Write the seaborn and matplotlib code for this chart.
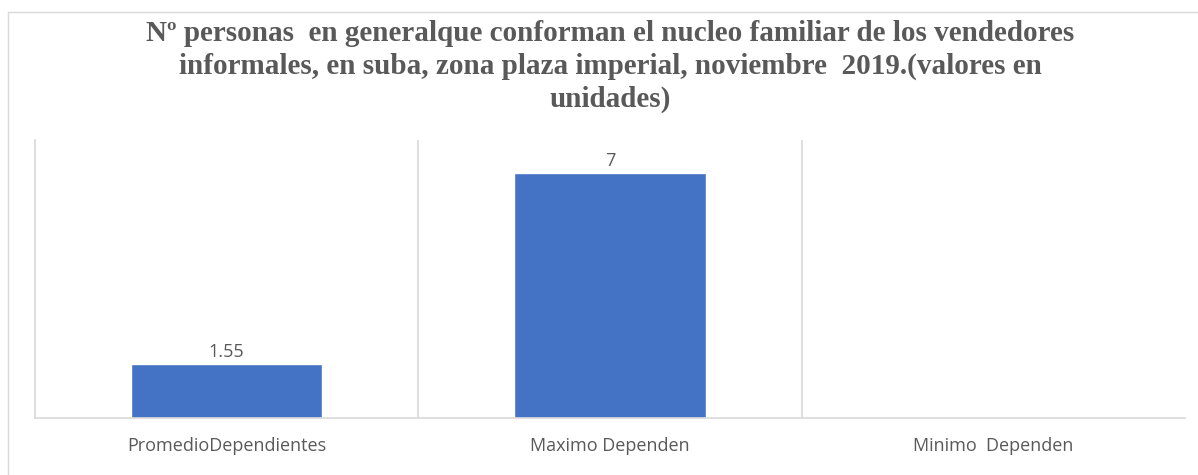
import matplotlib.pyplot as plt
import pandas as pd
import seaborn as sns
from matplotlib.lines import Line2D

CATEGORIES: list[str] = ["PromedioDependientes", "Maximo Dependen", "Minimo  Dependen"]
VALUES: list[float] = [1.55, 7, 0]
VALUE_LABELS: list[str] = ["1.55", "7", ""]
TITLE = (
    "Nº personas  en generalque conforman el nucleo familiar de los vendedores\n"
    "informales, en suba, zona plaza imperial, noviembre  2019.(valores en\n"
    "unidades)"
)

BAR_COLOR = "#4472C4"
TEXT_COLOR = "#595959"
GRID_COLOR = "#D9D9D9"


def main() -> None:
    sns.set_style("white")
    plt.rcParams["font.family"] = ["Open Sans", "DejaVu Sans"]

    plot_df = pd.DataFrame({"Categoria": CATEGORIES, "Valor": VALUES})

    fig = plt.figure(figsize=(11.98, 4.75), dpi=100)
    ax = fig.add_axes([0.0292, 0.12, 0.9599, 0.5853])
    sns.barplot(data=plot_df, x="Categoria", y="Valor", color=BAR_COLOR, width=0.5, saturation=1, ax=ax)

    for patch, label in zip(ax.patches, VALUE_LABELS):
        if label:
            ax.annotate(
                label,
                (patch.get_x() + patch.get_width() / 2, patch.get_height()),
                xytext=(0, 2),
                textcoords="offset points",
                ha="center",
                va="bottom",
                fontsize=13,
                color=TEXT_COLOR,
            )

    ax.set_xlim(-0.5, 2.5)
    ax.set_ylim(0, 7.95)
    ax.set_yticks([])
    ax.set_xticks(range(len(CATEGORIES)))
    ax.set_xticklabels(CATEGORIES, fontsize=13, color=TEXT_COLOR)
    ax.set_xticks([0.5, 1.5], minor=True)
    ax.tick_params(axis="x", which="both", length=0, pad=14)
    ax.grid(axis="x", which="minor", color=GRID_COLOR, linewidth=1.2)
    ax.set_xlabel("")
    ax.set_ylabel("")

    for side in ["top", "right"]:
        ax.spines[side].set_visible(False)
    for side in ["left", "bottom"]:
        ax.spines[side].set_color(GRID_COLOR)
        ax.spines[side].set_linewidth(1.2)

    ax.set_title(
        TITLE,
        family=["Liberation Serif", "DejaVu Serif"],
        fontweight="bold",
        fontsize=21,
        color=TEXT_COLOR,
        pad=24,
        linespacing=1.26,
    )

    # outer chart frame, partly visible at the top and left edge
    fig.add_artist(Line2D([0.0067, 0.0067], [0.0, 0.975], transform=fig.transFigure, color=GRID_COLOR, linewidth=1))
    fig.add_artist(Line2D([0.0067, 1.0], [0.975, 0.975], transform=fig.transFigure, color=GRID_COLOR, linewidth=1))

    fig.savefig("out.png", dpi=100)


if __name__ == "__main__":
    main()
